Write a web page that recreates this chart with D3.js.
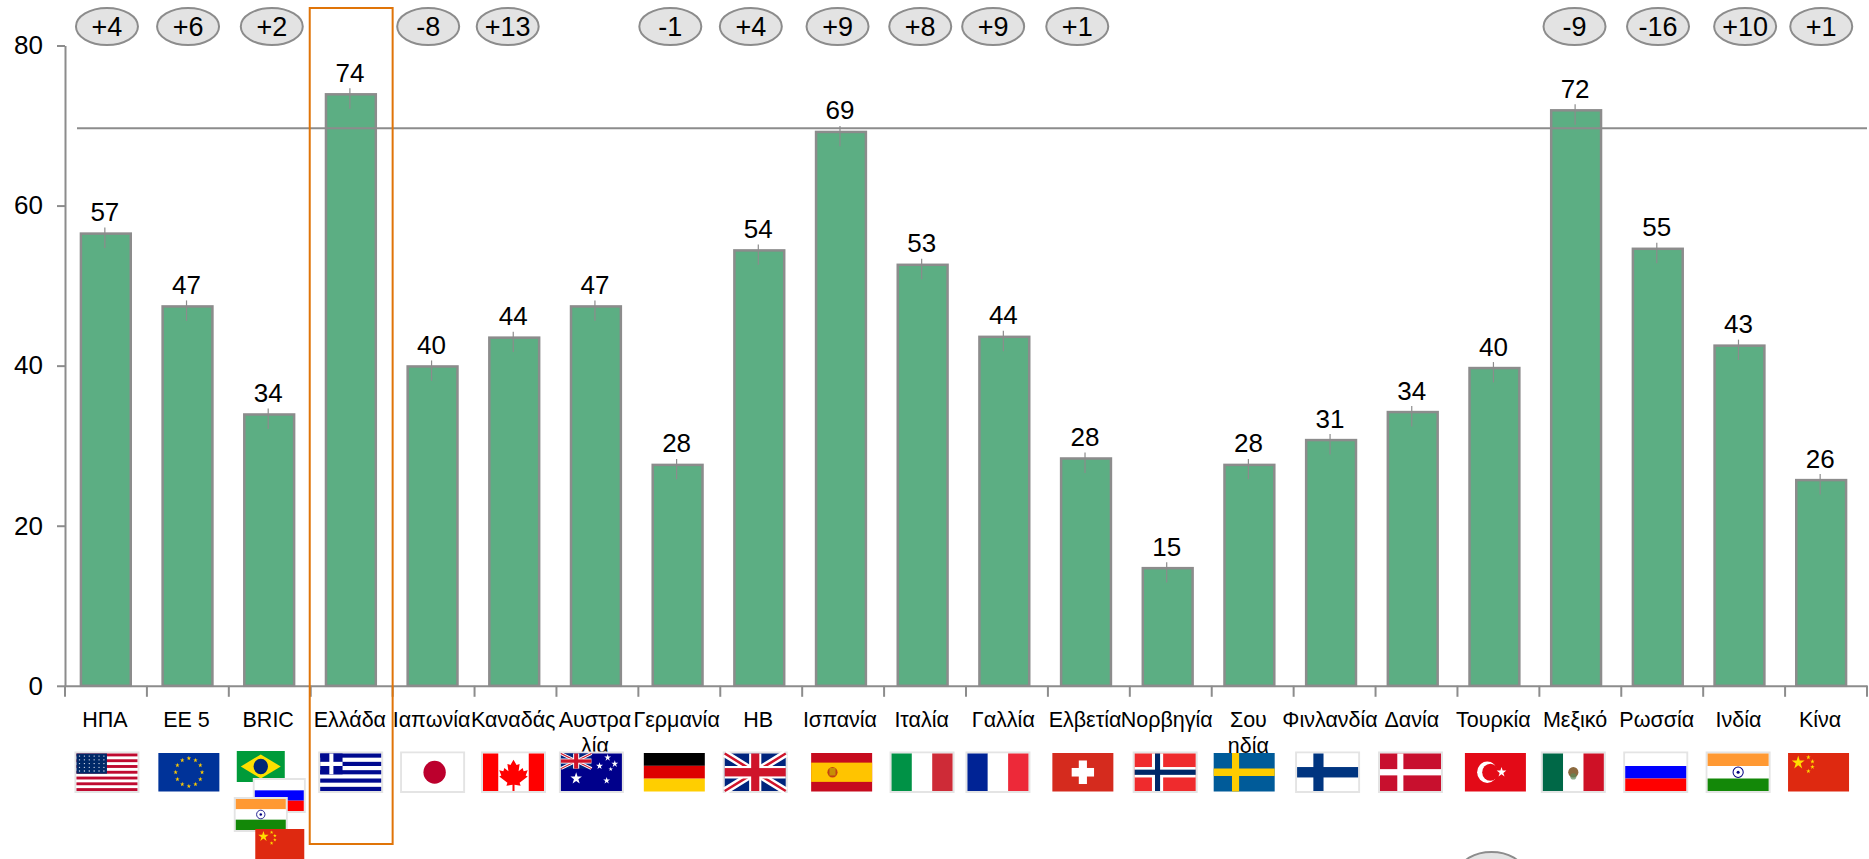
<!DOCTYPE html>
<html>
<head>
  <title>Bar chart with flags</title>
  <meta charset="UTF-8">
  <style>
  body { margin:0; background:#fff; }
  text { font-family:"Liberation Sans",Arial,sans-serif; fill:#000; }
  .axis path, .axis line { stroke:#8c8c8c; stroke-width:2; fill:none; }
  .axis text { font-family:"Liberation Sans",Arial,sans-serif; fill:#000; }
  </style>
</head>
<body>
  <div id="chart"></div>
  <script src="https://d3js.org/d3.v7.min.js" charset="utf-8"></script>
  <script type="text/javascript">
    var categories = ["ΗΠΑ","ΕΕ 5","BRIC","Ελλάδα","Ιαπωνία","Καναδάς","Αυστραλία","Γερμανία","ΗΒ","Ισπανία","Ιταλία","Γαλλία","Ελβετία","Νορβηγία","Σουηδία","Φινλανδία","Δανία","Τουρκία","Μεξικό","Ρωσσία","Ινδία","Κίνα"];
    var tickLabels = [["ΗΠΑ"],["ΕΕ 5"],["BRIC"],["Ελλάδα"],["Ιαπωνία"],["Καναδάς"],["Αυστρα","λία"],["Γερμανία"],["ΗΒ"],["Ισπανία"],["Ιταλία"],["Γαλλία"],["Ελβετία"],["Νορβηγία"],["Σου","ηδία"],["Φινλανδία"],["Δανία"],["Τουρκία"],["Μεξικό"],["Ρωσσία"],["Ινδία"],["Κίνα"]];
    var values = [56.5,47.4,33.9,73.9,39.9,43.5,47.4,27.6,54.4,69.2,52.6,43.6,28.4,14.7,27.6,30.7,34.2,39.7,71.9,54.6,42.5,25.7];
    var changes = ["+4","+6","+2",null,"-8","+13",null,"-1","+4","+9","+8","+9","+1",null,null,null,null,null,"-9","-16","+10","+1"];
    var average = 69.65;
    var errUp = 0.75, errDown = 1.8;
    var yTicks = [0,20,40,60,80];
    var highlighted = "Ελλάδα";

    // flag codes for each category, BRIC is a small pile of four
    var flagCodes = ["us","eu",null,"gr","jp","ca","au","de","gb","es","it","fr","ch","no","se","fi","dk","tr","mx","ru","in","cn"];
    var flagShift = [1,1,0,-1,-1,-2,-6,-5,-6,-1.5,-3,-9,-6,-5.6,-8.5,-7,-6,-3,-7,-6.5,-6,-7.5];
    var bubbleShift = [1,0.2,2,0,-5.4,-7.8,0,-9,-10.4,-5.6,-4.8,-13.8,-11.6,0,0,0,0,0,-5.8,-4.2,1,-4.8];
    var bordered = ["us","gr","jp","ca","au","gb","it","fr","no","fi","dk","mx","ru","in"];
    var bricPile = [
      {code:"br", dx:-9, y:751, w:48, h:31},
      {code:"ru", dx:9.5, y:780, w:49, h:31},
      {code:"in", dx:-9, y:799, w:50, h:31},
      {code:"cn", dx:10, y:829, w:49, h:30}
    ];

    function r(g, a, b, w, h, fill) {
      return g.append("rect").attr("x", a).attr("y", b).attr("width", w).attr("height", h).attr("fill", fill);
    }
    function c(g, a, b, rad, fill) {
      return g.append("circle").attr("cx", a).attr("cy", b).attr("r", rad).attr("fill", fill);
    }
    function p(g, d, fill) {
      return g.append("path").attr("d", d).attr("fill", fill);
    }
    function star(g, a, b, size, fill) {
      return g.append("path")
          .attr("d", d3.symbol().type(d3.symbolStar).size(size)())
          .attr("transform", "translate(" + a + "," + b + ")")
          .attr("fill", fill);
    }
    function union(g, w, h) {
      var u = g.append("g").attr("transform", "scale(" + (w / 60) + "," + (h / 36) + ")");
      r(u, 0, 0, 60, 36, "#00247d");
      u.append("path").attr("d", "M0,0L60,36M60,0L0,36").attr("stroke", "#fff").attr("stroke-width", 7);
      u.append("path").attr("d", "M0,0L60,36M60,0L0,36").attr("stroke", "#cf142b").attr("stroke-width", 2.5);
      r(u, 24, 0, 12, 36, "#fff");
      r(u, 0, 12, 60, 12, "#fff");
      r(u, 26, 0, 8, 36, "#cf142b");
      r(u, 0, 14, 60, 8, "#cf142b");
    }

    // everything in here is drawn on a 60 by 36 field
    var flagArt = {
      us: function(g) {
        r(g, 0, 0, 60, 36, "#fff");
        d3.range(0, 13, 2).forEach(function(i) { r(g, 0, i * 36 / 13, 60, 36 / 13, "#bf0a30"); });
        r(g, 0, 0, 30, 19.4, "#002868");
        d3.range(5).forEach(function(j) {
          d3.range(6).forEach(function(i) { c(g, 3 + i * 4.8, 2.5 + j * 3.6, 0.7, "#dfe3ee"); });
        });
      },
      eu: function(g) {
        r(g, 0, 0, 60, 36, "#003399");
        d3.range(12).forEach(function(i) {
          var t = i * Math.PI / 6;
          star(g, 30 + 13 * Math.sin(t), 18 - 13 * Math.cos(t), 6, "#ffcc00");
        });
      },
      gr: function(g) {
        r(g, 0, 0, 60, 36, "#fff");
        d3.range(0, 9, 2).forEach(function(i) { r(g, 0, i * 4, 60, 4, "#000a8f"); });
        r(g, 0, 0, 22, 20, "#000a8f");
        r(g, 9, 0, 4, 20, "#fff");
        r(g, 0, 8, 22, 4, "#fff");
      },
      jp: function(g) {
        r(g, 0, 0, 60, 36, "#fff");
        c(g, 32, 18, 11, "#bc002d");
      },
      ca: function(g) {
        r(g, 0, 0, 60, 36, "#fff");
        r(g, 0, 0, 15, 36, "#ff0000");
        r(g, 45, 0, 15, 36, "#ff0000");
        p(g, "M30,6l3,5 3,-1 -1,7 4,-3 1,3 4,-1 -2,5 2,1 -8,6 1,3 -6,-1v6h-2v-6l-6,1 1,-3 -8,-6 2,-1 -2,-5 4,1 1,-3 4,3 -1,-7 3,1z", "#ff0000");
      },
      au: function(g) {
        r(g, 0, 0, 60, 36, "#00008b");
        union(g, 30, 14.5);
        star(g, 15, 24, 40, "#fff");
        star(g, 45, 26, 14, "#fff");
        star(g, 38, 12, 14, "#fff");
        star(g, 46, 4, 14, "#fff");
        star(g, 53, 10, 14, "#fff");
        star(g, 49, 15, 6, "#fff");
      },
      de: function(g) {
        r(g, 0, 0, 60, 12, "#000");
        r(g, 0, 12, 60, 12, "#dd0000");
        r(g, 0, 24, 60, 12, "#ffce00");
      },
      gb: function(g) { union(g, 60, 36); },
      es: function(g) {
        r(g, 0, 0, 60, 36, "#c60b1e");
        r(g, 0, 9, 60, 18, "#ffc400");
        c(g, 21, 18, 5, "#ad1519").attr("opacity", 0.75);
        r(g, 18, 14, 6, 7, "#c8b100").attr("opacity", 0.7);
      },
      it: function(g) {
        r(g, 0, 0, 20, 36, "#009246");
        r(g, 20, 0, 20, 36, "#fff");
        r(g, 40, 0, 20, 36, "#ce2b37");
      },
      fr: function(g) {
        r(g, 0, 0, 20, 36, "#002395");
        r(g, 20, 0, 20, 36, "#fff");
        r(g, 40, 0, 20, 36, "#ed2939");
      },
      ch: function(g) {
        r(g, 0, 0, 60, 36, "#d52b1e");
        r(g, 26, 7, 8, 22, "#fff");
        r(g, 19, 14, 22, 8, "#fff");
      },
      no: function(g) {
        r(g, 0, 0, 60, 36, "#ef2b2d");
        r(g, 17, 0, 11, 36, "#fff");
        r(g, 0, 13, 60, 10, "#fff");
        r(g, 20, 0, 5, 36, "#002868");
        r(g, 0, 15.5, 60, 5, "#002868");
      },
      se: function(g) {
        r(g, 0, 0, 60, 36, "#005b99");
        r(g, 18, 0, 7, 36, "#fecc00");
        r(g, 0, 14.5, 60, 7, "#fecc00");
      },
      fi: function(g) {
        r(g, 0, 0, 60, 36, "#fff");
        r(g, 16, 0, 10, 36, "#003580");
        r(g, 0, 13, 60, 10, "#003580");
      },
      dk: function(g) {
        r(g, 0, 0, 60, 36, "#c8102e");
        r(g, 17, 0, 6, 36, "#fff");
        r(g, 0, 15, 60, 6, "#fff");
      },
      tr: function(g) {
        r(g, 0, 0, 60, 36, "#e30a17");
        c(g, 22, 18, 10, "#fff");
        c(g, 25, 18, 8, "#e30a17");
        star(g, 36, 18, 28, "#fff");
      },
      mx: function(g) {
        r(g, 0, 0, 20, 36, "#006847");
        r(g, 20, 0, 20, 36, "#fff");
        r(g, 40, 0, 20, 36, "#ce1126");
        c(g, 30, 18, 5, "#8c6a3f");
        c(g, 30, 22, 3, "#5b8a5a").attr("opacity", 0.7);
      },
      ru: function(g) {
        r(g, 0, 0, 60, 12, "#fff");
        r(g, 0, 12, 60, 12, "#0000ff");
        r(g, 0, 24, 60, 12, "#ff0000");
      },
      in: function(g) {
        r(g, 0, 0, 60, 12, "#ff9933");
        r(g, 0, 12, 60, 12, "#fff");
        r(g, 0, 24, 60, 12, "#138808");
        g.append("circle").attr("cx", 30).attr("cy", 18).attr("r", 5)
            .attr("fill", "none").attr("stroke", "#000080").attr("stroke-width", 1);
        c(g, 30, 18, 1.5, "#000080");
      },
      cn: function(g) {
        r(g, 0, 0, 60, 36, "#de2910");
        star(g, 10, 9, 50, "#ffde00");
        star(g, 20, 4, 6, "#ffde00");
        star(g, 24, 8, 6, "#ffde00");
        star(g, 24, 13, 6, "#ffde00");
        star(g, 20, 17, 6, "#ffde00");
      },
      br: function(g) {
        r(g, 0, 0, 60, 36, "#009b3a");
        p(g, "M30,4L55,18L30,32L5,18z", "#fedf00");
        c(g, 30, 18, 9, "#002776");
      }
    };

    function drawFlag(parent, code, fx, fy, w, h, hasBorder) {
      var outer = parent.append("g").attr("transform", "translate(" + fx + "," + fy + ")");
      if (hasBorder) {
        outer.append("rect")
            .attr("x", -1).attr("y", -1)
            .attr("width", w + 2).attr("height", h + 2)
            .attr("fill", "#fff").attr("stroke", "#e4e4e4").attr("stroke-width", 2);
      }
      var g = outer.append("g").attr("transform", "scale(" + (w / 60) + "," + (h / 36) + ")");
      flagArt[code](g);
    }

    var svg = d3.select("#chart").append("svg")
        .attr("width", 1869)
        .attr("height", 859)
        .style("display", "block");

    var margin = {top:45.5, left:65},
        width = 1802,
        height = 640.3;

    // the bars run a touch tighter than the axis ticks do
    var x = d3.scaleBand()
        .domain(categories)
        .range([margin.left, margin.left + 1797])
        .paddingInner(0.39)
        .paddingOuter(0.195);

    var xTick = d3.scaleBand()
        .domain(categories)
        .range([margin.left, margin.left + width]);

    var y = d3.scaleLinear()
        .domain([0, 80])
        .range([margin.top + height, margin.top]);

    var centre = function(d) { return x(d) + x.bandwidth() / 2 - 1; };

    // bars
    svg.append("g").selectAll("rect")
        .data(categories)
        .enter().append("rect")
        .attr("x", function(d) { return x(d); })
        .attr("y", function(d, i) { return y(values[i]); })
        .attr("width", x.bandwidth())
        .attr("height", function(d, i) { return y(0) - y(values[i]); })
        .attr("fill", "#5cae83")
        .attr("stroke", "#8c8c8c")
        .attr("stroke-width", 2.5);

    // whiskers
    svg.append("g").selectAll("line")
        .data(categories)
        .enter().append("line")
        .attr("x1", function(d) { return centre(d); })
        .attr("x2", function(d) { return centre(d); })
        .attr("y1", function(d, i) { return y(values[i] + errUp); })
        .attr("y2", function(d, i) { return y(values[i] - errDown); })
        .attr("stroke", "#8c8c8c")
        .attr("stroke-width", 1.2);

    // value labels
    svg.append("g").selectAll("text")
        .data(categories)
        .enter().append("text")
        .attr("x", function(d) { return centre(d); })
        .attr("y", function(d, i) { return y(values[i]) - 12.5; })
        .attr("text-anchor", "middle")
        .style("font-size", "26px")
        .text(function(d, i) { return Math.round(values[i]); });

    // y axis
    svg.append("g")
        .attr("class", "axis")
        .attr("transform", "translate(" + margin.left + ",0)")
        .call(d3.axisLeft(y).tickValues(yTicks).tickSize(8).tickSizeOuter(0).tickPadding(14))
        .selectAll("text")
        .style("font-size", "26px");

    // x axis, ticks sit between the bands
    var xAxis = svg.append("g")
        .attr("class", "axis")
        .attr("transform", "translate(0," + y(0) + ")")
        .call(d3.axisBottom(xTick).tickSize(0).tickSizeOuter(0).tickFormat(""));

    xAxis.selectAll(".tick").remove();

    xAxis.selectAll(".edge")
        .data(d3.range(categories.length + 1))
        .enter().append("line")
        .attr("class", "edge")
        .attr("x1", function(i) { return margin.left + i * xTick.step(); })
        .attr("x2", function(i) { return margin.left + i * xTick.step(); })
        .attr("y1", 0)
        .attr("y2", 11);

    var labels = svg.append("g").selectAll("text")
        .data(categories)
        .enter().append("text")
        .attr("text-anchor", "middle")
        .attr("y", 726.5)
        .style("font-size", "21.5px");

    labels.selectAll("tspan")
        .data(function(d, i) { return tickLabels[i].map(function(t) { return {c:d, t:t}; }); })
        .enter().append("tspan")
        .attr("x", function(d) { return centre(d.c); })
        .attr("dy", function(d, i) { return i ? 26 : 0; })
        .text(function(d) { return d.t; });

    // average line
    svg.append("line")
        .attr("x1", 77)
        .attr("x2", margin.left + width)
        .attr("y1", y(average))
        .attr("y2", y(average))
        .attr("stroke", "#8c8c8c")
        .attr("stroke-width", 2);

    // highlight box
    svg.append("rect")
        .attr("x", xTick(highlighted) - 1)
        .attr("y", 8)
        .attr("width", xTick.step() + 1)
        .attr("height", 836)
        .attr("fill", "none")
        .attr("stroke", "#e07408")
        .attr("stroke-width", 2);

    // change bubbles
    var bubbles = svg.append("g").selectAll("g")
        .data(categories.filter(function(d, i) { return changes[i]; }))
        .enter().append("g")
        .attr("transform", function(d) {
          return "translate(" + (xTick(d) + xTick.step() / 2 + bubbleShift[categories.indexOf(d)]) + ",26.5)";
        });

    bubbles.append("ellipse")
        .attr("rx", 31)
        .attr("ry", 18.5)
        .attr("fill", "#e3e3e3")
        .attr("stroke", "#8c8c8c")
        .attr("stroke-width", 2);

    bubbles.append("text")
        .attr("text-anchor", "middle")
        .attr("y", 9.5)
        .style("font-size", "27px")
        .text(function(d) { return changes[categories.indexOf(d)]; });

    // stray empty bubble cut by the bottom edge
    svg.append("ellipse")
        .attr("cx", 1491.5)
        .attr("cy", 870.5)
        .attr("rx", 31)
        .attr("ry", 18.5)
        .attr("fill", "#e3e3e3")
        .attr("stroke", "#8c8c8c")
        .attr("stroke-width", 2);

    // flags
    var flags = svg.append("g");

    categories.forEach(function(d, i) {
      var cx = xTick(d) + xTick.step() / 2 + flagShift[i];
      if (flagCodes[i]) {
        var code = flagCodes[i];
        var b = bordered.indexOf(code) >= 0;
        drawFlag(flags, code, cx - 30.5, b ? 753.5 : 753, 61, b ? 37.5 : 38.5, b);
      } else {
        bricPile.forEach(function(f) {
          drawFlag(flags, f.code, cx + f.dx - f.w / 2, f.y, f.w, f.h, bordered.indexOf(f.code) >= 0);
        });
      }
    });
  </script>
</body>
</html>
